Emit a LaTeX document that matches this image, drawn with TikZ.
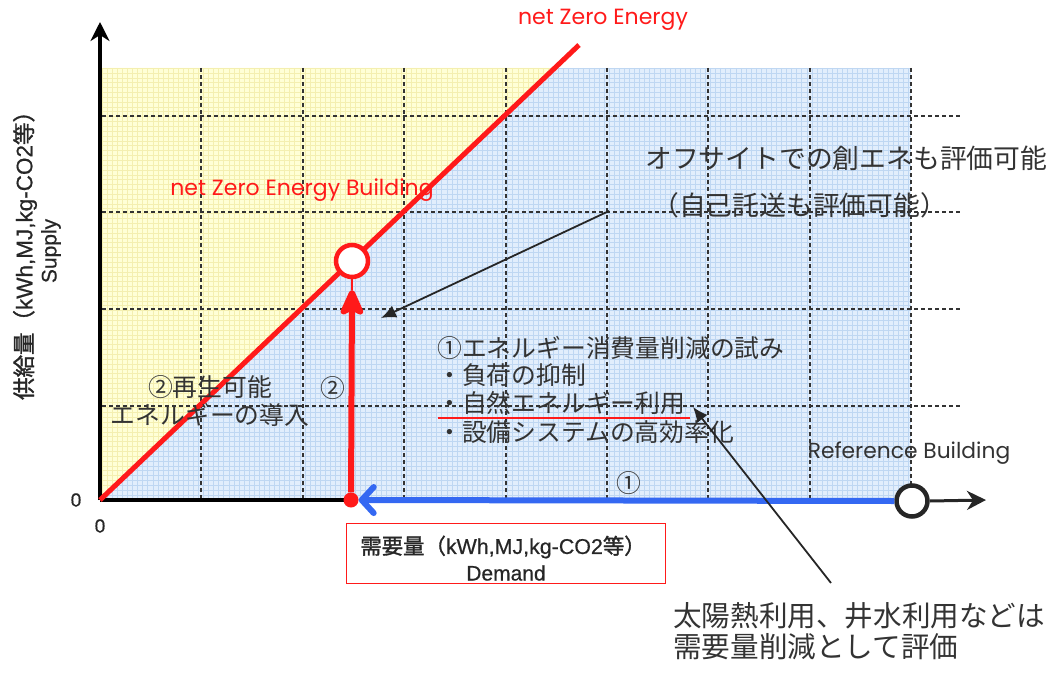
\documentclass[tikz,border=0pt]{standalone}
\usepackage{fontspec}
\setmainfont{Noto Sans CJK JP}
\newfontfamily\jpb{Noto Sans CJK JP}[FakeBold=1.5]
\newfontfamily\lsb{Liberation Sans}[FakeBold=0.6]
\newfontfamily\geo{Poppins}
\usetikzlibrary{arrows.meta}
\definecolor{yelfill}{HTML}{FFFFD6}
\definecolor{yelline}{HTML}{F4EFB0}
\definecolor{blufill}{HTML}{E2EEFC}
\definecolor{bluline}{HTML}{BFD7F2}
\definecolor{nzred}{HTML}{FF1A1A}
\definecolor{refblue}{HTML}{3468F2}
\definecolor{txt}{HTML}{333333}
\begin{document}
\begin{tikzpicture}[x=1pt,y=-1pt,
  gridline/.style={dashed, dash pattern=on 4pt off 3pt, line width=1.3pt, black!80},
  redlabel/.style={text=nzred, font=\geo\fontsize{22}{22}\selectfont, inner sep=0pt},
  intext/.style={text=txt, font=\fontsize{24.8}{28}\selectfont, inner sep=0pt},
  note/.style={text=txt, font=\fontsize{26.8}{26}\selectfont, inner sep=0pt},
  axlabel/.style={text=black!85, font=\lsb\fontsize{22.5}{22}\selectfont, inner sep=0pt},
  pointer/.style={line width=1.8pt, black!85, -{Latex[length=15pt,width=13pt]}},
]
\useasboundingbox (0,0) rectangle (1057,685);

% shaded areas
\fill[blufill] (102,68) rectangle (911,500);
\fill[yelfill] (102,68) -- (553,68) -- (100,500) -- cycle;
\begin{scope}
  \clip (102,68) -- (553,68) -- (100,500) -- cycle;
  \foreach \i in {0,...,90} \draw[yelline, line width=0.4pt] (102+\i*5.07,68) -- (102+\i*5.07,500);
  \foreach \j in {0,...,86} \draw[yelline, line width=0.4pt] (102,68+\j*4.85) -- (911,68+\j*4.85);
\end{scope}
\begin{scope}
  \clip (553,68) -- (911,68) -- (911,500) -- (100,500) -- cycle;
  \foreach \i in {0,...,160} \draw[bluline, line width=0.4pt] (102+\i*5.07,68) -- (102+\i*5.07,500);
  \foreach \j in {0,...,89} \draw[bluline, line width=0.4pt] (102,68+\j*4.85) -- (911,68+\j*4.85);
\end{scope}

% dashed grid
\foreach \x in {201,303,404,506,607,708,810,911} \draw[gridline] (\x,68) -- (\x,498);
\foreach \y in {116,212,309,406} \draw[gridline] (102,\y) -- (962,\y);

% axes
\coordinate (O) at (100,500);
\coordinate (ytip) at (100,22);
\coordinate (xtip) at (986,500);
\draw[line width=3.5pt, -{Stealth[length=19pt,width=19pt,inset=6pt]}] (O) -- (ytip);
\draw[line width=3.5pt] (O) -- (351,500);

% net zero energy line
\coordinate (nzeEnd) at (579,45);
\draw[nzred, line width=5pt] (O) -- (nzeEnd);

% nodes
\node[circle, draw=nzred, line width=4.5pt, fill=white, minimum size=32pt, inner sep=0pt] (nzeb) at (352,261) {};
\node[circle, fill=nzred, minimum size=15pt, inner sep=0pt] (dem) at (351,500) {};
\node[circle, draw=black!85, line width=4.5pt, fill=white, minimum size=31pt, inner sep=0pt] (ref) at (912,501) {};
\coordinate (rtip) at (352,290);

% arrows
\draw[nzred, line width=1.6pt] (nzeb.south) -- (rtip);
\draw[nzred, line width=6pt, -{Stealth[length=32pt,width=28pt,inset=7pt,round]}] (dem) -- (rtip);
\draw[refblue, line width=6pt, -{Straight Barb[length=12pt,width=26pt,round]}] (ref.west) -- (dem.east);
\draw[black!85, line width=3pt, -{Stealth[length=19pt,width=19pt,inset=6pt]}] (ref.east) -- (xtip);

% labels
\node[redlabel] (lnze) at (603,20) {net Zero Energy};
\node[redlabel] (lnzeb) at (302,190) {net Zero Energy Building};
\node[text=txt, font=\geo\fontsize{21.8}{22}\selectfont, inner sep=0pt] (lref) at (909,453) {Reference Building};
\node[intext] (c2) at (333,388) {②};
\node[intext] (c1) at (629,483) {①};
\node[intext, align=center] (ren) at (210,401) {②再生可能\\エネルギーの導入};
\node[intext, anchor=west] (t1) at (437,348) {①エネルギー消費量削減の試み};
\node[intext, anchor=west] (t2) at (437,375) {・負荷の抑制};
\node[intext, anchor=west] (t3) at (437,403) {・自然エネルギー利用};
\node[intext, anchor=west] (t4) at (437,432) {・設備システムの高効率化};
\draw[nzred, line width=2.2pt] (438,418) -- (690,418);

% axis zero labels
\node[axlabel, font=\lsb\fontsize{19}{22}\selectfont] (z1) at (76,500) {0};
\node[axlabel, font=\lsb\fontsize{19}{22}\selectfont] (z2) at (100,526) {0};

% y label
\node[axlabel, rotate=90] (ylab) at (25,250) {\jpb 供給量（\lsb kWh,MJ,kg-CO2\jpb 等）};
\node[axlabel, font=\lsb\fontsize{21}{22}\selectfont, rotate=90] (ysup) at (51,251) {Supply};

% demand box
\node[draw=nzred, line width=1pt, minimum width=319pt, minimum height=60pt] (dbox) at (506,553) {};
\node[axlabel, font=\lsb\fontsize{21.4}{22}\selectfont] (dlab) at (503,547) {\jpb 需要量（\lsb kWh,MJ,kg-CO2\jpb 等）};
\node[axlabel, font=\lsb\fontsize{21}{22}\selectfont] (dem2) at (506,573) {Demand};

% notes
\node[note, anchor=west] (n1) at (645,158) {オフサイトでの創エネも評価可能};
\node[note, anchor=west] (n2) at (652,205) {（自己託送も評価可能）};
\coordinate (p1s) at (609,211);
\coordinate (p1e) at (381,318);
\draw[pointer] (p1s) -- (p1e);

\node[note, font=\fontsize{28.6}{28}\selectfont, anchor=west] (n3) at (673,616) {太陽熱利用、井水利用などは};
\node[note, font=\fontsize{28.6}{28}\selectfont, anchor=west] (n4) at (673,647) {需要量削減として評価};
\coordinate (p2s) at (831,583);
\coordinate (p2e) at (693,407);
\draw[pointer] (p2s) -- (p2e);
\end{tikzpicture}
\end{document}
